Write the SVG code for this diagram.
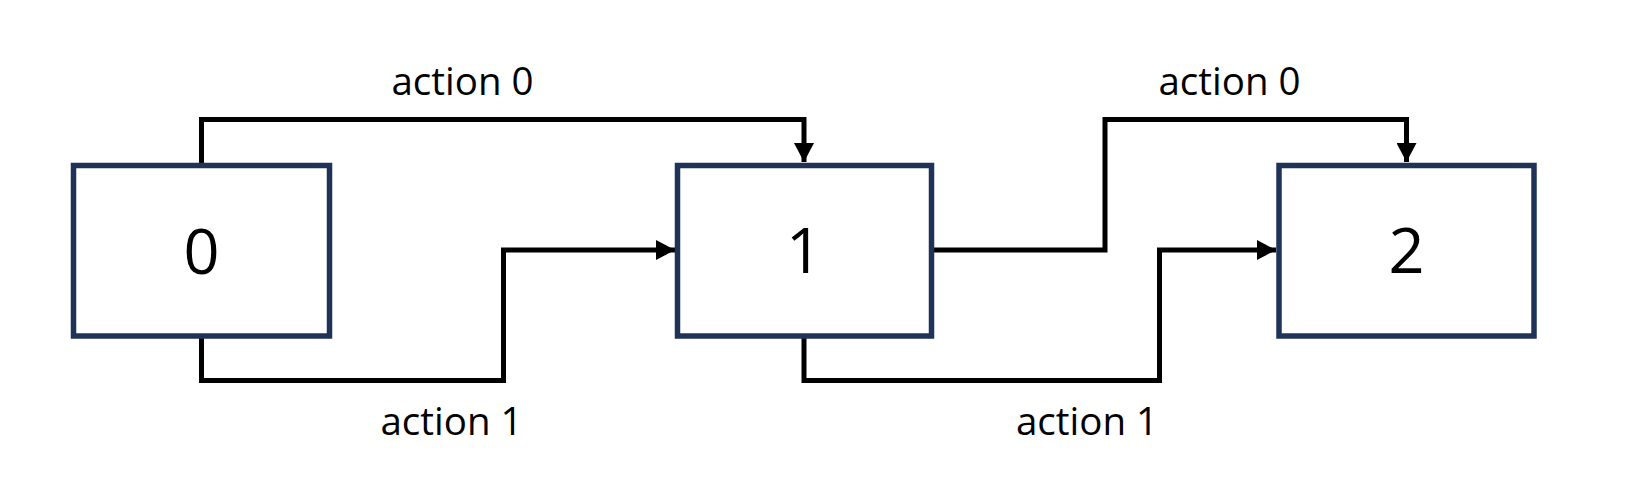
<svg xmlns="http://www.w3.org/2000/svg" width="1649" height="490" viewBox="0 0 1649 490">
<style>
.node{fill:#fff;stroke:#1f3358;stroke-width:5.5}
.nl{font-family:"Open Sans","Liberation Sans",sans-serif;font-size:63px;fill:#000;text-anchor:middle}
.el{font-family:"Open Sans","Liberation Sans",sans-serif;font-size:38.5px;fill:#000;text-anchor:middle}
.c{fill:none;stroke:#000;stroke-width:5;stroke-linejoin:miter}
</style>
<defs>
<marker id="ah" markerUnits="userSpaceOnUse" markerWidth="20" markerHeight="20" refX="19" refY="10" orient="auto">
<path d="M0,0 L19,10 L0,20 z" fill="#000"/>
</marker>
</defs>
<rect width="1649" height="490" fill="#fff"/>
<g id="connectors">
<path class="c" d="M201.5,165 V119.5 H804 V162" marker-end="url(#ah)"/>
<path class="c" d="M201.5,336 V380.5 H503.5 V250 H675" marker-end="url(#ah)"/>
<path class="c" d="M933,250 H1105 V119.5 H1406.5 V162" marker-end="url(#ah)"/>
<path class="c" d="M804,336 V380.5 H1159.5 V250 H1276" marker-end="url(#ah)"/>
<text class="el" x="462.5" y="95">action 0</text>
<text class="el" x="451.5" y="435">action 1</text>
<text class="el" x="1229.5" y="95">action 0</text>
<text class="el" x="1087" y="435">action 1</text>
</g>
<g id="node0">
<rect class="node" x="73.5" y="165.5" width="256" height="170.5"/>
<text class="nl" x="201.5" y="274">0</text>
</g>
<g id="node1">
<rect class="node" x="677.5" y="165.5" width="254" height="170.5"/>
<text class="nl" x="804" y="273">1</text>
</g>
<g id="node2">
<rect class="node" x="1279" y="165.5" width="255" height="170.5"/>
<text class="nl" x="1406.5" y="273">2</text>
</g>
</svg>
